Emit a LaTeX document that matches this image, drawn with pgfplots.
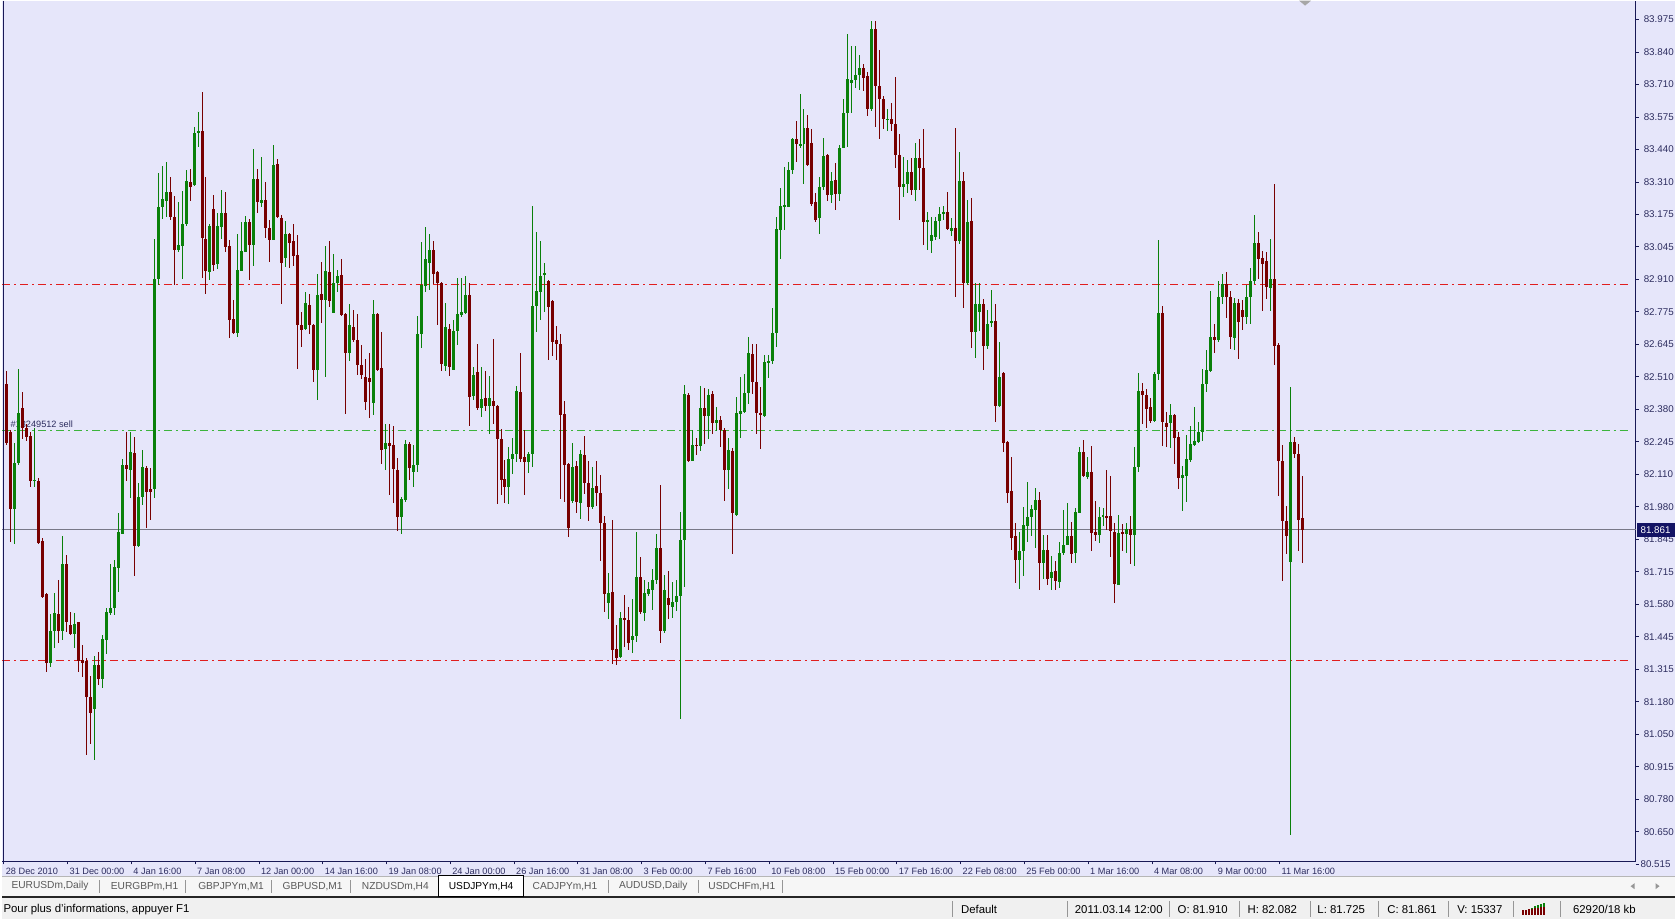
\documentclass[border=0pt]{standalone}
\usepackage{fontspec}
\setmainfont{Liberation Sans}
\usepackage{pgfplots}
\usepackage{pgfplotstable}
\pgfplotsset{compat=1.18}
\definecolor{bg}{RGB}{230,230,250}
\definecolor{bull}{RGB}{10,128,10}
\definecolor{bear}{RGB}{120,0,0}
\definecolor{axc}{RGB}{25,25,85}
\definecolor{txt}{RGB}{45,45,95}
\definecolor{lvl}{RGB}{225,30,30}
\definecolor{ord}{RGB}{60,180,60}
\definecolor{cur}{RGB}{120,120,135}
\definecolor{tabbg}{RGB}{246,246,246}
\definecolor{stbg}{RGB}{240,240,240}
\definecolor{sep}{RGB}{150,150,150}
\definecolor{boxc}{RGB}{20,20,100}
\newcommand\fprice{\fontsize{4.9}{5.9}\selectfont}
\newcommand\fdate{\fontsize{4.6}{5.6}\selectfont}
\newcommand\ftab{\fontsize{5.1}{6.1}\selectfont}
\newcommand\fstat{\fontsize{5.7}{6.7}\selectfont}

\pgfplotstableread{
i o h l c
2 81.946 82.216 81.802 82.135
3 82.135 82.522 82.126 82.342
7 82.060 82.279 82.036 82.067
11 81.316 81.514 81.298 81.448
12 81.448 81.604 81.379 81.520
14 81.448 81.838 81.412 81.721
17 81.433 81.523 81.379 81.477
22 81.127 81.343 80.920 81.307
24 81.250 81.430 81.214 81.415
25 81.412 81.541 81.352 81.527
26 81.523 81.721 81.514 81.541
27 81.541 81.739 81.514 81.707
28 81.707 81.928 81.604 81.851
29 81.847 82.150 81.847 82.126
31 82.108 82.261 81.991 82.180
33 81.793 82.054 81.790 81.995
34 81.995 82.189 81.964 82.117
37 82.027 83.053 81.991 82.891
38 82.891 83.324 82.864 83.185
39 83.185 83.351 83.134 83.215
40 83.206 83.369 83.143 83.246
43 83.008 83.203 82.999 83.026
44 83.026 83.251 82.891 83.116
45 83.116 83.338 83.107 83.291
47 83.273 83.512 83.269 83.489
48 83.489 83.572 83.431 83.494
51 82.918 83.115 82.886 83.104
53 82.949 83.159 82.931 83.104
54 83.102 83.254 83.054 83.159
58 82.665 83.072 82.652 82.927
59 82.924 83.122 82.924 83.002
60 82.999 83.145 82.999 83.121
62 83.027 83.420 82.941 83.299
64 83.200 83.388 83.186 83.213
67 83.050 83.436 83.050 83.358
70 82.976 83.129 82.938 83.072
75 82.686 82.836 82.679 82.792
78 82.518 82.911 82.396 82.826
80 82.804 83.023 82.488 82.920
82 82.750 82.990 82.750 82.873
83 82.873 82.924 82.836 82.904
86 82.586 82.788 82.554 82.700
92 82.382 82.804 82.331 82.745
95 82.195 82.297 82.106 82.218
99 81.916 81.997 81.845 81.986
100 81.986 82.229 81.975 82.213
102 82.100 82.209 82.038 82.127
103 82.127 82.736 82.096 82.663
104 82.663 83.040 82.604 82.866
105 82.859 83.102 82.836 82.972
106 82.954 83.074 82.843 83.009
110 82.532 82.791 82.513 82.693
112 82.518 82.720 82.515 82.676
113 82.676 82.894 82.618 82.745
114 82.740 82.894 82.734 82.754
115 82.750 82.900 82.747 82.822
117 82.409 82.529 82.393 82.495
119 82.363 82.529 82.325 82.400
121 82.368 82.491 82.254 82.400
126 82.036 82.202 81.967 82.150
127 82.150 82.236 82.090 82.172
128 82.172 82.450 82.141 82.430
131 82.141 82.181 82.093 82.172
132 82.172 83.190 82.120 82.777
133 82.777 83.081 82.672 82.840
134 82.836 83.044 82.720 82.900
135 82.904 82.954 82.754 82.914
142 81.977 82.216 81.970 82.117
144 81.970 82.188 81.905 82.172
147 81.954 82.120 81.946 82.031
151 81.562 81.683 81.496 81.603
154 81.342 81.524 81.338 81.502
157 81.409 81.577 81.356 81.427
158 81.427 81.851 81.403 81.670
160 81.521 81.655 81.487 81.603
161 81.599 81.646 81.590 81.621
162 81.614 81.701 81.534 81.655
163 81.655 81.845 81.640 81.789
165 81.446 81.677 81.440 81.614
167 81.547 81.646 81.502 81.565
168 81.565 81.658 81.528 81.590
169 81.590 81.935 81.086 81.819
170 81.819 82.453 81.627 82.416
172 82.143 82.270 82.143 82.211
174 82.205 82.453 82.186 82.360
176 82.326 82.438 82.233 82.416
178 82.298 82.363 82.267 82.311
181 82.106 82.237 82.028 82.186
183 81.920 82.405 81.916 82.341
184 82.336 82.485 82.237 82.349
185 82.345 82.498 82.341 82.423
186 82.423 82.653 82.378 82.584
190 82.330 82.578 82.322 82.550
191 82.546 82.578 82.485 82.554
192 82.554 82.770 82.541 82.666
193 82.666 83.143 82.610 83.095
194 83.091 83.262 82.970 83.188
195 83.184 83.348 83.091 83.193
196 83.184 83.371 83.184 83.337
197 83.337 83.468 83.318 83.464
199 83.436 83.647 83.427 83.442
200 83.441 83.586 83.278 83.506
204 83.140 83.309 83.075 83.267
205 83.267 83.467 83.256 83.395
207 83.232 83.329 83.201 83.293
209 83.236 83.437 83.210 83.426
210 83.426 83.626 83.426 83.570
211 83.570 83.891 83.429 83.706
212 83.694 83.844 83.570 83.706
213 83.703 83.844 83.672 83.724
214 83.724 83.806 83.663 83.755
217 83.586 83.944 83.575 83.914
221 83.540 83.586 83.494 83.544
225 83.267 83.390 83.226 83.278
226 83.278 83.375 83.241 83.329
228 83.252 83.447 83.210 83.386
231 83.121 83.164 83.010 83.129
232 83.047 83.144 82.995 83.072
233 83.060 83.144 83.047 83.129
234 83.129 83.186 83.052 83.155
235 83.155 83.186 83.129 83.164
237 83.087 83.140 83.063 83.098
239 83.044 83.410 83.032 83.290
241 82.872 83.213 82.863 83.121
243 82.672 82.872 82.564 82.786
244 82.755 82.872 82.675 82.786
246 82.616 82.764 82.601 82.706
247 82.706 82.844 82.693 82.718
249 82.367 82.632 82.364 82.487
254 81.736 81.850 81.618 81.772
255 81.772 81.954 81.670 81.882
256 81.877 82.059 81.813 81.916
257 81.913 81.963 81.834 81.946
258 81.943 82.031 81.786 81.984
260 81.727 81.841 81.659 81.779
262 81.663 81.755 81.616 81.691
264 81.650 81.813 81.623 81.768
265 81.768 81.943 81.759 81.800
266 81.800 81.973 81.800 81.837
268 81.768 81.950 81.727 81.936
269 81.932 82.202 81.932 82.181
271 82.079 82.161 82.072 82.100
274 81.841 81.957 81.809 81.913
275 81.913 81.950 81.877 81.922
279 81.636 81.922 81.636 81.847
281 81.845 81.891 81.766 81.864
283 81.841 82.202 81.714 82.120
284 82.117 82.505 82.100 82.431
288 82.308 82.509 82.304 82.499
289 82.499 83.050 82.477 82.750
292 82.300 82.376 82.195 82.331
295 82.072 82.123 81.940 82.086
296 82.082 82.250 81.977 82.150
297 82.147 82.286 82.141 82.213
298 82.209 82.366 82.205 82.226
299 82.222 82.304 82.216 82.263
300 82.264 82.521 82.228 82.459
301 82.459 82.597 82.427 82.516
302 82.512 82.840 82.509 82.650
304 82.640 82.881 82.633 82.817
305 82.817 82.911 82.787 82.867
308 82.645 82.810 82.597 82.792
311 82.734 82.863 82.704 82.814
312 82.814 82.934 82.704 82.881
313 82.881 83.151 82.867 83.035
317 82.853 83.053 82.757 82.888
322 81.728 82.445 80.611 82.220
}\up

\pgfplotstableread{
i o h l c
0 82.459 82.513 82.207 82.216
1 82.261 82.270 81.811 81.946
4 82.360 82.427 82.234 82.279
5 82.279 82.297 82.225 82.243
6 82.247 82.261 82.036 82.060
8 82.063 82.072 81.802 81.808
9 81.815 81.829 81.581 81.586
10 81.599 81.604 81.280 81.316
13 81.518 81.658 81.397 81.448
15 81.721 81.757 81.442 81.482
16 81.473 81.527 81.430 81.437
18 81.482 81.484 81.280 81.325
19 81.329 81.388 81.257 81.316
20 81.325 81.334 80.938 81.176
21 81.176 81.262 80.983 81.109
23 81.307 81.361 81.226 81.250
30 82.126 82.261 82.060 82.108
32 82.175 82.240 81.671 81.793
35 82.117 82.121 81.869 82.018
36 82.027 82.117 81.901 82.018
41 83.246 83.306 83.129 83.143
42 83.143 83.230 82.864 83.008
46 83.284 83.338 83.206 83.266
49 83.494 83.656 82.891 83.057
50 83.054 83.306 82.829 82.922
52 83.177 83.231 82.920 82.948
55 83.159 83.245 82.999 83.020
56 83.023 83.050 82.649 82.720
57 82.724 82.802 82.665 82.668
61 83.121 83.132 82.884 83.027
63 83.299 83.340 83.159 83.204
65 83.213 83.286 83.057 83.098
66 83.099 83.132 82.959 83.050
68 83.358 83.381 83.140 83.143
69 83.140 83.149 82.788 82.954
71 83.072 83.077 82.935 83.036
72 83.043 83.113 82.941 82.982
73 82.986 83.068 82.522 82.700
74 82.700 82.754 82.611 82.682
76 82.784 82.826 82.665 82.700
77 82.700 82.705 82.468 82.515
79 82.826 82.959 82.709 82.804
81 82.920 83.044 82.774 82.799
84 82.904 82.972 82.736 82.740
85 82.747 82.752 82.338 82.586
87 82.693 82.761 82.631 82.638
88 82.638 82.747 82.495 82.536
89 82.536 82.618 82.481 82.495
90 82.488 82.563 82.352 82.386
91 82.485 82.584 82.318 82.468
93 82.745 82.750 82.509 82.518
94 82.522 82.672 82.131 82.188
96 82.218 82.295 82.004 82.205
97 82.209 82.286 81.973 82.109
98 82.109 82.154 81.858 81.916
101 82.213 82.222 82.066 82.113
107 83.009 83.047 82.870 82.911
108 82.918 82.924 82.700 82.873
109 82.873 82.877 82.513 82.540
111 82.682 82.704 82.491 82.529
116 82.822 82.870 82.286 82.406
118 82.509 82.625 82.352 82.359
120 82.400 82.513 82.349 82.368
122 82.390 82.645 82.297 82.366
123 82.370 82.372 81.967 82.232
124 82.232 82.273 82.004 82.066
125 82.068 82.150 81.973 82.036
129 82.427 82.586 82.141 82.154
130 82.161 82.270 82.004 82.141
136 82.881 82.886 82.556 82.772
137 82.799 82.803 82.573 82.631
138 82.638 82.695 82.559 82.622
139 82.625 82.663 81.987 82.331
140 82.336 82.390 81.977 82.127
141 82.131 82.134 81.831 81.868
143 82.120 82.145 81.932 81.973
145 82.168 82.246 82.011 82.052
146 82.052 82.145 81.899 81.954
148 82.041 82.145 81.959 82.014
149 82.011 82.086 81.732 81.891
150 81.888 81.916 81.524 81.599
152 81.608 81.901 81.310 81.371
153 81.375 81.472 81.310 81.338
155 81.502 81.595 81.384 81.491
156 81.491 81.547 81.371 81.397
159 81.670 81.748 81.515 81.524
164 81.789 82.046 81.397 81.446
166 81.580 81.692 81.496 81.552
171 82.416 82.423 82.140 82.143
173 82.211 82.237 82.168 82.205
175 82.360 82.442 82.211 82.326
177 82.419 82.429 82.252 82.298
179 82.311 82.326 82.199 82.270
180 82.270 82.280 81.981 82.106
182 82.186 82.196 81.763 81.931
187 82.584 82.621 82.419 82.466
188 82.466 82.625 82.255 82.341
189 82.341 82.447 82.192 82.330
198 83.464 83.538 83.371 83.442
201 83.506 83.560 83.352 83.355
202 83.447 83.503 83.186 83.198
203 83.206 83.241 83.121 83.133
206 83.395 83.399 83.210 83.232
208 83.293 83.364 83.170 83.236
215 83.755 83.770 83.660 83.714
216 83.718 83.737 83.555 83.586
218 83.914 83.944 83.509 83.678
219 83.678 83.826 83.463 83.626
220 83.626 83.641 83.506 83.544
222 83.544 83.610 83.494 83.524
223 83.524 83.718 83.344 83.398
224 83.398 83.483 83.129 83.267
227 83.329 83.383 83.232 83.252
229 83.383 83.463 83.252 83.344
230 83.344 83.503 83.029 83.121
236 83.164 83.247 83.090 83.093
238 83.098 83.509 82.816 83.044
240 83.293 83.329 82.770 82.872
242 83.124 83.221 82.606 82.672
245 82.786 82.806 82.518 82.616
248 82.718 82.786 82.302 82.367
250 82.505 82.509 82.181 82.216
251 82.222 82.226 81.970 82.014
252 82.022 82.161 81.779 81.827
253 81.837 81.891 81.646 81.736
259 81.984 82.014 81.616 81.727
261 81.779 81.841 81.636 81.659
263 81.691 81.732 81.616 81.650
267 81.837 81.895 81.727 81.763
270 82.181 82.229 82.079 82.082
272 82.100 82.205 81.777 81.847
273 81.854 81.977 81.817 81.841
276 81.918 82.104 81.858 81.913
277 81.916 82.082 81.749 81.854
278 81.854 81.888 81.564 81.640
280 81.854 81.888 81.777 81.845
282 81.864 81.918 81.722 81.841
285 82.431 82.464 82.297 82.413
286 82.413 82.440 82.277 82.355
287 82.366 82.400 82.300 82.308
290 82.750 82.777 82.205 82.304
291 82.300 82.345 82.202 82.284
293 82.331 82.335 82.131 82.236
294 82.240 82.263 82.031 82.072
303 82.650 82.704 82.587 82.640
306 82.867 82.917 82.729 82.814
307 82.814 82.840 82.601 82.650
309 82.792 82.805 82.562 82.711
310 82.760 82.805 82.681 82.734
314 83.035 83.083 82.888 82.970
315 82.973 83.005 82.757 82.952
316 82.964 83.000 82.805 82.858
318 82.888 83.278 82.539 82.615
319 82.619 82.627 82.001 82.143
320 82.143 82.207 81.652 81.900
321 81.900 81.959 81.764 81.835
323 82.220 82.243 82.157 82.172
324 82.172 82.214 81.776 81.900
325 81.910 82.082 81.725 81.861
}\dn

\begin{document}
\begin{tikzpicture}
\begin{scope}[x=0.5pt,y=-0.5pt]
\useasboundingbox (0,0) rectangle (1675,920);
\fill[bg] (0,0) rectangle (1675,877);
\end{scope}
\begin{axis}[
  at={(0pt,0pt)}, anchor=north west,
  width=818pt, height=431pt, scale only axis, clip=false,
  xmin=-1.127, xmax=408.59, ymin=80.5031, ymax=84.0287,
  axis x line*=bottom, axis y line*=right,
  axis line style={axc, line width=0.6pt, -},
  tick style={axc, line width=0.5pt}, major tick length=1.6pt, tick align=outside,
  xtick={-0.7,15.3,31.3,47.3,63.3,79.3,95.3,111.3,127.3,143.3,159.3,175.3,191.3,207.3,223.3,239.3,255.3,271.3,287.3,303.3,319.3},
  xticklabels={28 Dec 2010,31 Dec 00:00,4 Jan 16:00,7 Jan 08:00,12 Jan 00:00,14 Jan 16:00,19 Jan 08:00,24 Jan 00:00,26 Jan 16:00,31 Jan 08:00,3 Feb 00:00,7 Feb 16:00,10 Feb 08:00,15 Feb 00:00,17 Feb 16:00,22 Feb 08:00,25 Feb 00:00,1 Mar 16:00,4 Mar 08:00,9 Mar 00:00,11 Mar 16:00},
  xticklabel style={anchor=north west, inner sep=0pt, xshift=0.8pt, yshift=-1.7pt, font=\fdate, text=txt},
  ytick={83.9510,83.8179,83.6848,83.5517,83.4186,83.2855,83.1525,83.0194,82.8863,82.7532,82.6201,82.4870,82.3539,82.2208,82.0877,81.9546,81.8216,81.6885,81.5554,81.4223,81.2892,81.1561,81.0230,80.8899,80.7568,80.6237},
  yticklabels={83.975,83.840,83.710,83.575,83.440,83.310,83.175,83.045,82.910,82.775,82.645,82.510,82.380,82.245,82.110,81.980,81.845,81.715,81.580,81.445,81.315,81.180,81.050,80.915,80.780,80.650},
  yticklabel style={anchor=west, inner sep=0pt, xshift=2.3pt, font=\fprice, text=txt},
  candle/.style={draw=none, mark=none, forget plot},
]
% level lines
\draw[lvl, line width=0.5pt, dash pattern=on 4pt off 2pt on 1pt off 2pt] (axis cs:-1.127,82.8655) -- (axis cs:407.5,82.8655);
\draw[lvl, line width=0.5pt, dash pattern=on 4pt off 2pt on 1pt off 2pt] (axis cs:-1.127,81.3252) -- (axis cs:407.5,81.3252);
\draw[ord, line width=0.5pt, dash pattern=on 4pt off 2pt on 1pt off 2pt] (axis cs:-1.127,82.2688) -- (axis cs:407.5,82.2688);
\draw[cur, line width=0.5pt] (axis cs:-1.127,81.861) -- (axis cs:408.59,81.861);
\node[anchor=base west, inner sep=0pt, font=\fdate, text=txt] at (axis cs:0.9,82.281) {\#13249512 sell};
% wicks
\addplot[candle, error bars/.cd, y dir=both, y explicit, error mark=none,
  error bar style={draw=bull, line width=0.5pt}]
  table[x=i, y expr={(\thisrow{h}+\thisrow{l})/2}, y error expr={(\thisrow{h}-\thisrow{l})/2}] {\up};
\addplot[candle, error bars/.cd, y dir=both, y explicit, error mark=none,
  error bar style={draw=bear, line width=0.5pt}]
  table[x=i, y expr={(\thisrow{h}+\thisrow{l})/2}, y error expr={(\thisrow{h}-\thisrow{l})/2}] {\dn};
% bodies
\addplot[candle, error bars/.cd, y dir=both, y explicit, error mark=none,
  error bar style={draw=bull, line width=1.5pt}]
  table[x=i, y expr={(\thisrow{o}+\thisrow{c})/2}, y error expr={max(abs(\thisrow{c}-\thisrow{o})/2,0.0015)}] {\up};
\addplot[candle, error bars/.cd, y dir=both, y explicit, error mark=none,
  error bar style={draw=bear, line width=1.5pt}]
  table[x=i, y expr={(\thisrow{o}+\thisrow{c})/2}, y error expr={max(abs(\thisrow{c}-\thisrow{o})/2,0.0015)}] {\dn};
\end{axis}
\begin{scope}[x=0.5pt,y=-0.5pt]
% left border
\draw[axc, line width=0.6pt] (1.5,0) -- (1.5,862);
% last tick label below the axis
\draw[axc, line width=0.5pt] (1636,865) -- (1639.2,865);
\node[anchor=west, inner sep=0pt, font=\fprice, text=txt] at (1640.6,865) {80.515};
% current price box
\fill[boxc] (1637,523.5) rectangle (1675,537.5);
\node[anchor=west, inner sep=0pt, font=\fprice, text=white] at (1640.6,530.2) {81.861};
% chart shift marker
\fill[gray!70] (1299,0) -- (1311,0) -- (1305,5) -- cycle;
% tab bar
\fill[tabbg] (0,877) rectangle (1675,897);
\draw[sep!70, line width=0.5pt] (0,877) -- (1675,877);
\fill[black!85] (0,897) rectangle (1675,899);
\foreach \xx in {97,184,270,349,607,697,782} {\draw[sep, line width=0.5pt] (\xx,881) -- (\xx,894);}
\filldraw[fill=white, draw=black, line width=0.6pt] (437,876) rectangle (522,897);
\begin{scope}[every node/.style={anchor=west, inner sep=0pt, font=\ftab, text=black!65}]
\node at (9,887) {EURUSDm,Daily};
\node at (108.5,887) {EURGBPm,H1};
\node at (196,887) {GBPJPYm,M1};
\node at (280.5,887) {GBPUSD,M1};
\node at (360,887) {NZDUSDm,H4};
\node[text=black] at (447,887) {USDJPYm,H4};
\node at (531,887) {CADJPYm,H1};
\node at (617.5,887) {AUDUSD,Daily};
\node at (707,887) {USDCHFm,H1};
\end{scope}
\fill[sep] (1631,887) -- (1635,884) -- (1635,890) -- cycle;
\fill[sep] (1660,887) -- (1656,884) -- (1656,890) -- cycle;
% status bar
\fill[stbg] (0,899) rectangle (1675,920);
\foreach \xx in {952,1067,1169,1239,1310,1379,1449,1514,1561} {\draw[sep, line width=0.5pt] (\xx,902) -- (\xx,918);}
\begin{scope}[every node/.style={anchor=west, inner sep=0pt, font=\fstat, text=black}]
\node at (1,910) {Pour plus d'informations, appuyer F1};
\node at (960,910) {Default};
\node at (1074,910) {2011.03.14 12:00};
\node at (1177,910) {O: 81.910};
\node at (1247,910) {H: 82.082};
\node at (1317,910) {L: 81.725};
\node at (1387,910) {C: 81.861};
\node at (1457,910) {V: 15337};
\node at (1573,910) {62920/18 kb};
\end{scope}
\foreach \k in {0,...,7} {
  \fill[bull] (1522+3*\k,916-4-1.2*\k) rectangle (1524+3*\k,911-0.5*\k);
  \fill[bear] (1522+3*\k,911-0.5*\k) rectangle (1524+3*\k,916);
}
\end{scope}
\end{tikzpicture}
\end{document}
